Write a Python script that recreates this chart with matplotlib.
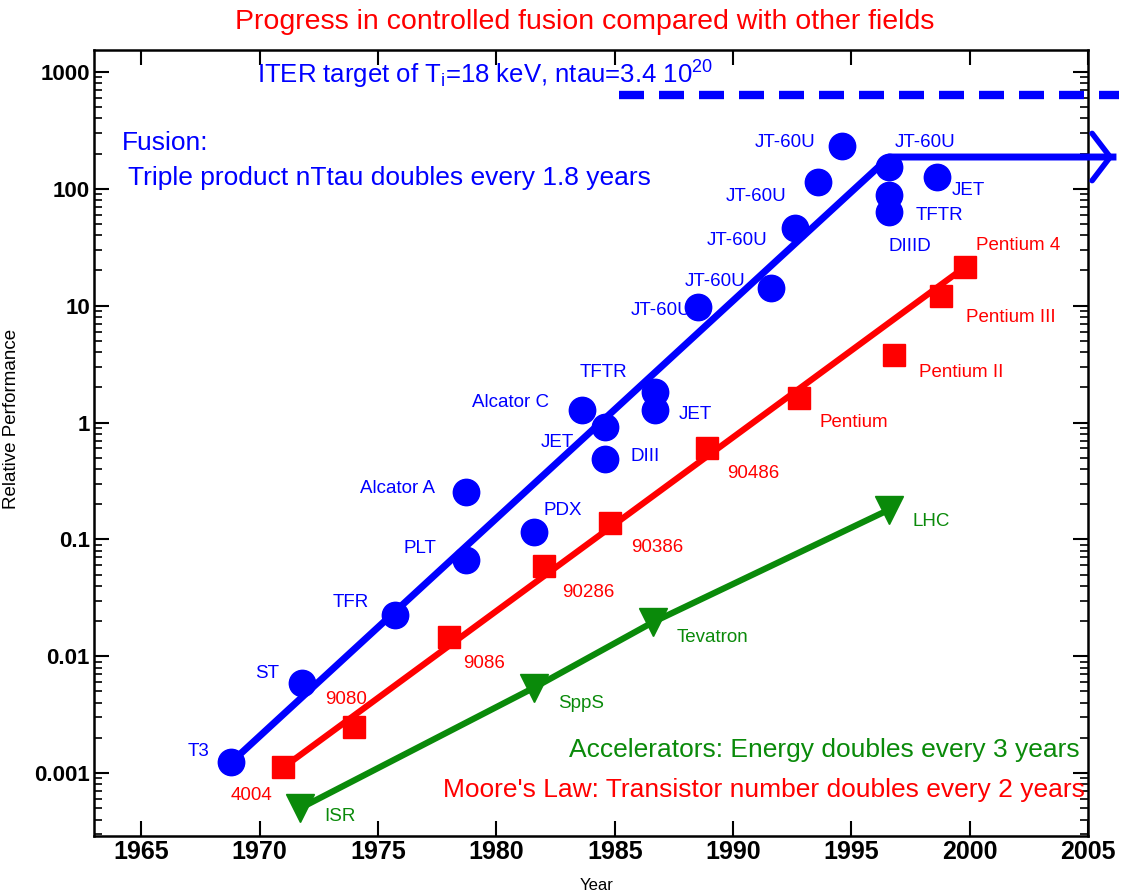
import matplotlib
matplotlib.use('Agg')
import matplotlib.pyplot as plt

plt.rcParams['font.family'] = ['Liberation Sans', 'DejaVu Sans']
plt.rcParams['mathtext.fontset'] = 'custom'
plt.rcParams['mathtext.rm'] = 'Liberation Sans'
plt.rcParams['mathtext.it'] = 'Liberation Sans'

# Fusion: triple product (relative)
fusion_names = ['T3', 'ST', 'TFR', 'PLT', 'Alcator A', 'PDX', 'Alcator C', 'JET',
                'DIII', 'TFTR', 'JET', 'JT-60U', 'JT-60U', 'JT-60U', 'JT-60U',
                'JT-60U', 'JT-60U', 'JET', 'TFTR', 'DIIID']
fusion_years = [1968.8, 1971.8, 1975.7, 1978.7, 1978.7, 1981.6, 1983.6, 1984.6,
                1984.6, 1986.7, 1986.7, 1988.5, 1991.6, 1992.6, 1993.6,
                1994.6, 1996.6, 1998.6, 1996.6, 1996.6]
fusion_values = [0.00124, 0.0059, 0.0224, 0.066, 0.254, 0.115, 1.28, 0.91,
                 0.49, 1.82, 1.28, 9.7, 14.1, 46, 114,
                 232, 154, 126, 88, 63]
fusion_trend_years = [1968.8, 1996.6, 2006.2]
fusion_trend_values = [0.00124, 187, 187]

iter_years = [1985.2, 2006.3]
iter_values = [635, 635]

# Moore's law
moore_names = ['4004', '9080', '9086', '90286', '90386', '90486', 'Pentium',
               'Pentium II', 'Pentium III', 'Pentium 4']
moore_years = [1971.0, 1974.0, 1978.0, 1982.0, 1984.8, 1988.9, 1992.8,
               1996.8, 1998.8, 1999.8]
moore_values = [0.00112, 0.00247, 0.0146, 0.059, 0.138, 0.60, 1.62,
                3.78, 12.1, 21.4]
moore_trend_years = [1971.0, 1999.8]
moore_trend_values = [0.00112, 21.4]

# Accelerators
accel_names = ['ISR', 'SppS', 'Tevatron', 'LHC']
accel_years = [1971.7, 1981.6, 1986.6, 1996.6]
accel_values = [0.0005, 0.0054, 0.0195, 0.18]

ytick_values = [0.001, 0.01, 0.1, 1, 10, 100, 1000]
ytick_labels = ['0.001', '0.01', '0.1', '1', '10', '100', '1000']
xtick_values = [1965, 1970, 1975, 1980, 1985, 1990, 1995, 2000, 2005]

# label offsets in pixels (right, up) from each point
fusion_offsets = [(-33, 11), (-35, 10), (-44, 13), (-46, 12), (-68, 4), (29, 22),
                  (-71, 7), (-48, -15), (40, 2), (-52, 20), (40, -5), (-36, -3),
                  (-56, 7), (-58, -12), (-62, -14), (-57, 4), (36, 24), (32, -13),
                  (50, -20), (21, -34)]
moore_offsets = [(-32, -28), (-8, 28), (35, -26), (45, -26), (47, -24), (46, -25),
                 (55, -24), (67, -17), (70, -22), (53, 22)]
accel_offsets = [(40, -8), (47, -16), (60, -15), (42, -12)]

blue = '#0000ff'
red = '#ff0000'
green = '#0a8a0a'

fig = plt.figure(figsize=(11.21, 8.96), dpi=100)
ax = fig.add_axes([0.0839, 0.067, 0.8867, 0.8772])
ax.set_yscale('log')

# trends
ax.plot(fusion_trend_years, fusion_trend_values, color=blue, lw=5, clip_on=False,
        solid_capstyle='butt', zorder=3)
ax.annotate('', xy=(2006.2, 187), xytext=(2005.6, 187), annotation_clip=False,
            arrowprops=dict(arrowstyle='->,head_length=0.65,head_width=0.85',
                            color=blue, lw=4, mutation_scale=20))
ax.plot(iter_years, iter_values, color=blue, lw=6, dashes=(3.0, 1.8),
        clip_on=False)
ax.plot(moore_trend_years, moore_trend_values, color=red, lw=4.5, zorder=3)
ax.plot(accel_years, accel_values, color=green, lw=4.5, zorder=3)

# markers
ax.plot(fusion_years, fusion_values, 'o', color=blue, ms=19, zorder=4)
ax.plot(moore_years, moore_values, 's', color=red, ms=16, zorder=4)
ax.plot(accel_years, accel_values, 'v', color=green, ms=20, zorder=4)

def put_labels(names, xs, ys, offs, color):
    for n, x, y, (dx, dy) in zip(names, xs, ys, offs):
        ax.annotate(n, (x, y), xytext=(dx * 0.72, dy * 0.72),
                    textcoords='offset points', ha='center', va='center',
                    fontsize=13.5, color=color, zorder=5)

put_labels(fusion_names, fusion_years, fusion_values, fusion_offsets, blue)
put_labels(moore_names, moore_years, moore_values, moore_offsets, red)
put_labels(accel_names, accel_years, accel_values, accel_offsets, green)

# text blocks
ax.text(0.164, 0.968, r'ITER target of T$_{\rm i}$=18 keV, ntau=3.4 10$^{20}$',
        transform=ax.transAxes, color=blue, fontsize=18.5, va='center')
ax.text(0.028, 0.882, 'Fusion:', transform=ax.transAxes, color=blue,
        fontsize=19, va='center')
ax.text(0.034, 0.837, 'Triple product nTtau doubles every 1.8 years',
        transform=ax.transAxes, color=blue, fontsize=19, va='center')
ax.text(0.992, 0.109, 'Accelerators: Energy doubles every 3 years',
        transform=ax.transAxes, color=green, fontsize=19, va='center', ha='right')
ax.text(0.997, 0.0585, "Moore's Law: Transistor number doubles every 2 years",
        transform=ax.transAxes, color=red, fontsize=19, va='center', ha='right')

fig.text(0.522, 0.9754, 'Progress in controlled fusion compared with other fields',
         color=red, fontsize=20.5, ha='center', va='center')

ax.set_xlim(1963, 2005)
ax.set_ylim(2.9e-4, 1540)
ax.set_xticks(xtick_values)
ax.set_xticklabels([str(v) for v in xtick_values], fontsize=18, fontweight='bold')
ax.set_yticks(ytick_values)
ax.set_yticklabels(ytick_labels, fontsize=16, fontweight='bold')
ax.tick_params(which='both', direction='in', top=True, right=True)
ax.tick_params(which='major', length=11, width=1.5, pad=3)
ax.tick_params(which='minor', length=6, width=1.2)
for s in ax.spines.values():
    s.set_linewidth(1.8)

ax.set_ylabel('Relative Performance', fontsize=13.5)
ax.yaxis.set_label_coords(-0.074, 0.53)
ax.set_xlabel('Year', fontsize=12)
ax.xaxis.set_label_coords(0.506, -0.053)

fig.savefig('out.png', dpi=100)
